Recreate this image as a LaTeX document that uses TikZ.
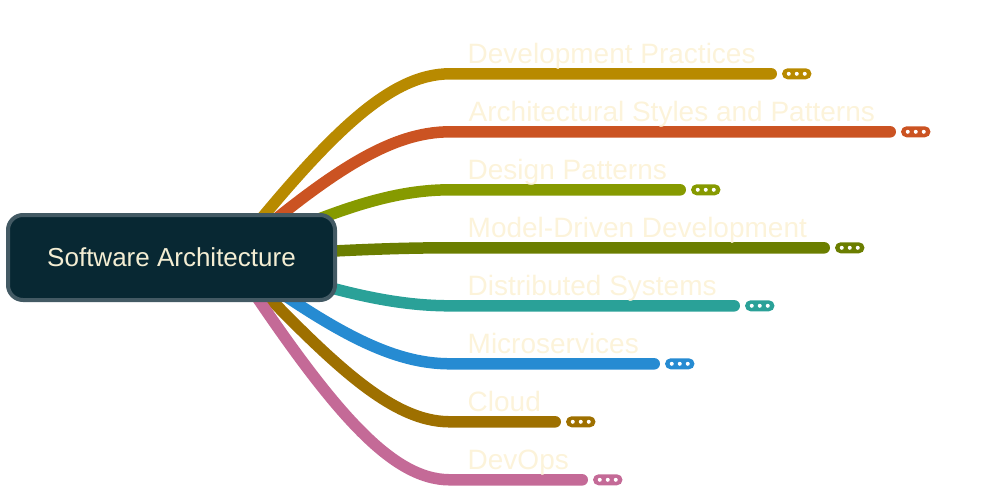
\documentclass[tikz,border=0pt]{standalone}
\usepackage{fontspec}
\setmainfont{Liberation Sans}
\usetikzlibrary{calc,backgrounds}
\definecolor{cBox}{HTML}{082833}
\definecolor{cBorder}{HTML}{435A64}
\definecolor{cRootText}{HTML}{F3EDD3}
\definecolor{cText}{HTML}{FCF3DA}
\definecolor{cGold}{HTML}{B88A00}
\definecolor{cOrange}{HTML}{CB5322}
\definecolor{cGreen}{HTML}{869A00}
\definecolor{cOlive}{HTML}{6B7E00}
\definecolor{cTeal}{HTML}{2AA198}
\definecolor{cBlue}{HTML}{268BD2}
\definecolor{cBrown}{HTML}{9E7000}
\definecolor{cPink}{HTML}{C46A97}
\begin{document}
\begin{tikzpicture}[x=1pt,y=-1pt,
  branch/.style={line width=11.5pt, line cap=round},
  rootbox/.style={rectangle, rounded corners=15pt, draw=cBorder, line width=4pt, fill=cBox,
    minimum width=327pt, minimum height=85pt, inner sep=0pt, text=cRootText,
    font=\fontsize{26}{30}\selectfont},
  lbl/.style={inner sep=0pt, text=cText, font=\fontsize{28}{32}\selectfont, anchor=base west},
  pill/.style={rectangle, rounded corners=5.5pt, minimum width=29.5pt, minimum height=11pt, inner sep=0pt}]
\useasboundingbox (0,0) rectangle (991,490);

\node[rootbox] (root) at (171.5,257.5) {Software Architecture};
\coordinate (o) at (230,257);

% end points of branch lines
\coordinate (e1) at (771.25,73.8);
\coordinate (e2) at (890.25,131.8);
\coordinate (e3) at (680.25,189.8);
\coordinate (e4) at (824.25,247.8);
\coordinate (e5) at (734.25,305.8);
\coordinate (e6) at (654.25,363.8);
\coordinate (e7) at (555.25,421.8);
\coordinate (e8) at (582.25,479.8);

\begin{scope}[on background layer]
\draw[branch, cGold]   (o) .. controls +(100,-124.6) and +(-60,0) .. (450,73.8)  -- (e1);
\draw[branch, cOrange] (o) .. controls +(100,-85.1)  and +(-60,0) .. (450,131.8) -- (e2);
\draw[branch, cGreen]  (o) .. controls +(100,-45.7)  and +(-60,0) .. (450,189.8) -- (e3);
\draw[branch, cOlive]  (o) .. controls +(100,-6.3)   and +(-60,0) .. (450,247.8) -- (e4);
\draw[branch, cTeal]   (o) .. controls +(100,33.2)   and +(-60,0) .. (450,305.8) -- (e5);
\draw[branch, cBlue]   (o) .. controls +(100,72.6)   and +(-60,0) .. (450,363.8) -- (e6);
\draw[branch, cBrown]  (o) .. controls +(100,105)    and +(-60,0) .. (450,421.8) -- (e7);
\draw[branch, cPink]   (o) .. controls +(100,151.5)  and +(-60,0) .. (450,479.8) -- (e8);
\end{scope}

\node[lbl] (t1) at (467.5,63.3)  {Development Practices};
\node[lbl] (t2) at (468.5,121.3) {Architectural Styles and Patterns};
\node[lbl] (t3) at (467.5,179.3) {Design Patterns};
\node[lbl] (t4) at (467.5,237.3) {Model-Driven Development};
\node[lbl] (t5) at (467.5,295.3) {Distributed Systems};
\node[lbl] (t6) at (467.5,353.3) {Microservices};
\node[lbl] (t7) at (467.5,411.3) {Cloud};
\node[lbl] (t8) at (467.5,469.3) {DevOps};

\foreach \i/\c in {1/cGold,2/cOrange,3/cGreen,4/cOlive,5/cTeal,6/cBlue,7/cBrown,8/cPink}{
  \node[pill, fill=\c] (p\i) at ($(e\i)+(25.5,0)$) {};
  \foreach \d in {-8,0,8} \fill[white] ($(p\i.center)+(\d,0)$) circle (2pt);
}
\end{tikzpicture}
\end{document}
